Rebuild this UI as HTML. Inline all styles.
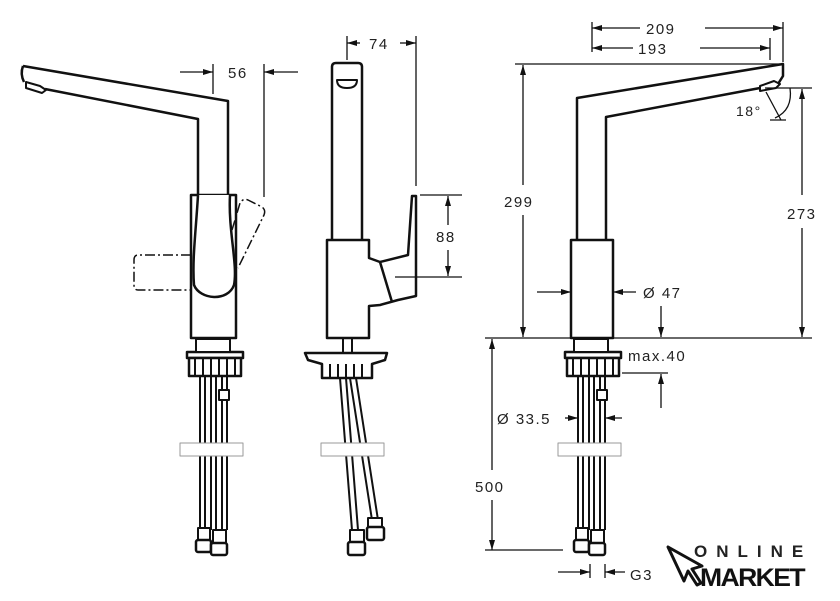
<!DOCTYPE html>
<html><head><meta charset="utf-8"><style>html,body{margin:0;padding:0;background:#fff}svg{display:block}text{font-family:"Liberation Sans",sans-serif;font-size:15px;fill:#222;letter-spacing:1.5px}</style></head>
<body>
<svg width="840" height="601" viewBox="0 0 840 601" xmlns="http://www.w3.org/2000/svg">
<defs>
<marker id="a" viewBox="0 0 10 6" refX="10" refY="3" markerWidth="10" markerHeight="6" orient="auto-start-reverse" markerUnits="userSpaceOnUse"><path d="M0,0L10,3L0,6z" fill="#111"/></marker>
<g id="under">
 <rect x="565" y="352" width="56" height="6" fill="#fff" stroke="#111" stroke-width="2.5"/>
 <rect x="567" y="358" width="52" height="18" fill="#fff" stroke="#111" stroke-width="2.5"/>
 <path d="M573 358v18M581 358v18M589 358v18M597 358v18M605 358v18M613 358v18" stroke="#111" stroke-width="2"/>
 <rect x="574" y="339" width="34" height="13" fill="#fff" stroke="#111" stroke-width="2"/>
 <path d="M578 376V530M583 376V530M589 376V530M594 376V530M600 376V530M605 376V530" stroke="#111" stroke-width="2"/>
 <rect x="597" y="390" width="10" height="10" fill="#fff" stroke="#111" stroke-width="2"/>
 <rect x="558" y="443" width="63" height="13" fill="#fff" stroke="#999" stroke-width="1"/>
 <rect x="576" y="528" width="12" height="14" fill="#fff" stroke="#111" stroke-width="2"/>
 <rect x="591" y="530" width="13" height="14" fill="#fff" stroke="#111" stroke-width="2"/>
 <rect x="574" y="540" width="15" height="12" rx="2" fill="#fff" stroke="#111" stroke-width="2.5"/>
 <rect x="589" y="543" width="16" height="12" rx="2" fill="#fff" stroke="#111" stroke-width="2.5"/>
</g>
</defs>
<g fill="none" stroke="#111" stroke-width="2.5" stroke-linejoin="round">
<!-- LEFT VIEW -->
<path d="M23,66 L228,101 L228,195"/>
<path d="M198,195 L198,119 L45,89"/>
<path d="M23,66 Q20,74 24,82"/>
<path d="M26,82 l14,4 l6,4 l-4,3 l-16,-5 z" stroke-width="2"/>
<path d="M191,195 H236 V338 H191 Z" fill="#fff"/>
<path d="M198,195 C196,230 192,260 194,285 C200,300 228,302 234,285 C238,265 228,230 230,195" fill="#fff"/>
<path d="M191,240v20M236,240v20" stroke-width="2"/>
<path d="M191,255 H138 Q134,255 134,260 V285 Q134,290 138,290 H191" stroke-dasharray="10,3,2,3" stroke-width="1.5"/>
<path d="M232,230 L240,203 Q243,198 248,200 L262,207 Q266,210 264,215 L238,268" stroke-dasharray="10,3,2,3" stroke-width="1.5"/>
<!-- MIDDLE VIEW -->
<path d="M332,240 V67 Q332,63 336,63 H358 Q362,63 362,67 V240"/>
<path d="M337,80 Q337,88 347,88 Q357,88 357,80 Z" stroke-width="2"/>
<path d="M327,240 H369 V258 L380,262 L408,255 L412,196 L416,196 L416,296 L398,300 L380,305 L369,306 V338 H327 Z" fill="#fff"/>
<path d="M380,262 L392,302"/>
<!-- RIGHT VIEW -->
<path d="M577,240 V98 L783,64 L783,76 L778,84 M760,88 L606,117 V240"/>
<path d="M760,86 l14,-5 l6,3 l-4,4 l-16,3 z" stroke-width="2"/>
<rect x="571" y="240" width="42" height="98" fill="#fff"/>
</g>
<g fill="none" stroke="#111" stroke-width="2.5" stroke-linejoin="round">
 <use href="#under"/>
 <use href="#under" transform="translate(-378,0)"/>
</g>
<!-- middle under-counter -->
<g fill="none" stroke="#111" stroke-width="2.5" stroke-linejoin="round">
 <path d="M305,353 H387 L385,360 L372,364 V378 H322 V364 L308,360 Z" fill="#fff"/>
 <path d="M330,364v14M338,364v14M346,364v14M354,364v14M362,364v14" stroke-width="2"/>
 <path d="M343,339v14M352,339v14" stroke-width="2"/>
 <path d="M340,378 L352,530 M346,378 L358,530 M350,378 L372,520 M356,378 L378,520" stroke-width="2"/>
 <rect x="321" y="443" width="63" height="13" fill="#fff" stroke="#999" stroke-width="1"/>
 <rect x="350" y="530" width="14" height="12" fill="#fff" stroke-width="2"/>
 <rect x="348" y="542" width="17" height="13" rx="2" fill="#fff"/>
 <rect x="368" y="518" width="14" height="12" fill="#fff" stroke-width="2"/>
 <rect x="367" y="527" width="17" height="13" rx="2" fill="#fff"/>
</g>
<!-- dimension lines -->
<g stroke="#111" stroke-width="1.3" fill="none">
 <path d="M213,64v30M264,64v133"/>
 <path d="M180,72H213" marker-end="url(#a)"/><path d="M298,72H264" marker-end="url(#a)"/>
 <path d="M347,36v24M416,36v150"/>
 <path d="M347,43H360" marker-start="url(#a)"/><path d="M400,43H416" marker-end="url(#a)"/>
 <path d="M420,195H462M395,277H462"/>
 <path d="M448,196V225" marker-start="url(#a)"/><path d="M448,250V276" marker-end="url(#a)"/>
 <path d="M592,22v30M783,22v40M770,38v22"/>
 <path d="M592,28H640" marker-start="url(#a)"/><path d="M705,28H783" marker-end="url(#a)"/>
 <path d="M592,48H633" marker-start="url(#a)"/><path d="M700,48H770" marker-end="url(#a)"/>
 <path d="M515,64H780M485,338H812M765,88H812"/>
 <path d="M523,65V185" marker-start="url(#a)"/><path d="M523,215V337" marker-end="url(#a)"/>
 <path d="M802,89V195" marker-start="url(#a)"/><path d="M802,228V337" marker-end="url(#a)"/>
 <path d="M790,88 Q793,110 775,118"/><path d="M766,92 L781,120 M770,120h16"/>
 <path d="M537,292H571" marker-end="url(#a)"/><path d="M636,292H613" marker-end="url(#a)"/>
 <path d="M661,306V337" marker-end="url(#a)"/>
 <path d="M622,373H668"/><path d="M661,408V374" marker-end="url(#a)"/>
 <path d="M492,339V470" marker-start="url(#a)"/><path d="M492,500V550" marker-end="url(#a)"/>
 <path d="M485,550H563"/>
 <path d="M565,418H578" marker-end="url(#a)"/><path d="M622,418H605" marker-end="url(#a)"/>
 <path d="M558,572H590" marker-end="url(#a)"/><path d="M625,572H605" marker-end="url(#a)"/>
 <path d="M590,564v14M605,564v14"/>
</g>
<text x="228" y="78">56</text>
<text x="369" y="49">74</text>
<text x="436" y="242">88</text>
<text x="646" y="34">209</text>
<text x="638" y="54">193</text>
<text x="504" y="207">299</text>
<text x="787" y="219">273</text>
<text x="736" y="116" style="font-size:14px">18°</text>
<text x="643" y="298">Ø 47</text>
<text x="628" y="361">max.40</text>
<text x="497" y="424">Ø 33.5</text>
<text x="475" y="492">500</text>
<text x="630" y="580">G3</text>
<!-- logo -->
<path d="M668,547 L684,581 L688,571 L697,585 L701,583 L692,569 L702,566 Z" fill="#fff" stroke="#111" stroke-width="3" stroke-linejoin="round"/>
<text x="694" y="557" style="font-size:17px;font-weight:bold;letter-spacing:9px">ONLINE</text>
<text x="700" y="586" style="font-size:25px;font-weight:bold;letter-spacing:-1.5px;fill:#111" textLength="104" lengthAdjust="spacingAndGlyphs">MARKET</text>
</svg>
</body></html>
